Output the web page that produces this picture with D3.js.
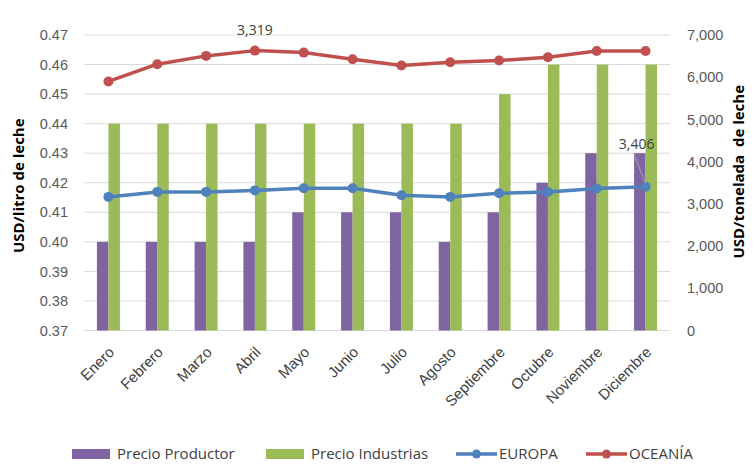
<!DOCTYPE html>
<html>
<head>
<meta charset="utf-8">
<script src="https://cdn.jsdelivr.net/npm/d3@7"></script>
<style>
  html, body { margin: 0; padding: 0; background: #fff; }
  svg { display: block; font-family: "Open Sans", "Noto Sans", sans-serif; }
</style>
</head>
<body>
<svg id="chart" width="756" height="464"></svg>
<script>
// Monthly milk prices: producer and industry price per litre (left axis),
// Europe and Oceania export price per tonne (right axis).
const months = ["Enero", "Febrero", "Marzo", "Abril", "Mayo", "Junio", "Julio",
  "Agosto", "Septiembre", "Octubre", "Noviembre", "Diciembre"];
const precioProductor = [0.40, 0.40, 0.40, 0.40, 0.41, 0.41, 0.41, 0.40, 0.41, 0.42, 0.43, 0.43];
const precioIndustrias = [0.44, 0.44, 0.44, 0.44, 0.44, 0.44, 0.44, 0.44, 0.45, 0.46, 0.46, 0.46];
const europa = [3165, 3283, 3283, 3319, 3370, 3370, 3205, 3165, 3252, 3283, 3363, 3406];
const oceania = [5900, 6309, 6505, 6630, 6583, 6427, 6276, 6356, 6394, 6474, 6623, 6623];
const leftTicks = [0.37, 0.38, 0.39, 0.40, 0.41, 0.42, 0.43, 0.44, 0.45, 0.46, 0.47];
const rightTicks = [0, 1000, 2000, 3000, 4000, 5000, 6000, 7000];
// Points whose value is written beside the line
const europaLabels = [3, 11];

const colors = {
  productor: "#8064A2",
  industrias: "#9BBB59",
  europa: "#4F81BD",
  oceania: "#C0504D"
};

const svg = d3.select("#chart");
const plot = { left: 84, right: 670, top: 35, bottom: 330.5 };

const x = d3.scaleBand().domain(months).range([plot.left, plot.right]).paddingInner(0).paddingOuter(0);
const yL = d3.scaleLinear().domain([0.37, 0.47]).range([plot.bottom, plot.top]);
const yR = d3.scaleLinear().domain([0, 7000]).range([plot.bottom, plot.top]);
const barW = 11.5;
const cx = m => x(m) + x.bandwidth() / 2;

// Horizontal gridlines
svg.append("g")
  .selectAll("line")
  .data(leftTicks)
  .join("line")
  .attr("x1", plot.left).attr("x2", plot.right)
  .attr("y1", d => yL(d)).attr("y2", d => yL(d))
  .attr("stroke", "#d9d9d9").attr("stroke-width", 1);

// Left axis
const leftAxis = svg.append("g")
  .attr("transform", `translate(${plot.left},0)`)
  .call(d3.axisLeft(yL).tickValues(leftTicks).tickFormat(d3.format(".2f")).tickSize(0).tickPadding(16));
leftAxis.select(".domain").remove();
leftAxis.selectAll("text").attr("fill", "#595959").style("font-size", "14.5px");

// Right axis
const rightAxis = svg.append("g")
  .attr("transform", `translate(${plot.right},0)`)
  .call(d3.axisRight(yR).tickValues(rightTicks).tickFormat(d3.format(",")).tickSize(0).tickPadding(17));
rightAxis.select(".domain").remove();
rightAxis.selectAll("text").attr("fill", "#595959").style("font-size", "14.5px");

// Axis titles
svg.append("text")
  .attr("transform", `translate(24,${(plot.top + plot.bottom) / 2 + 3}) rotate(-90)`)
  .attr("text-anchor", "middle")
  .attr("fill", "#000")
  .style("font-size", "15px").style("font-weight", "bold")
  .text("USD/litro de leche");
svg.append("text")
  .attr("transform", `translate(744,${(plot.top + plot.bottom) / 2 - 11}) rotate(-90)`)
  .attr("text-anchor", "middle")
  .attr("fill", "#000")
  .style("font-size", "15px").style("font-weight", "bold")
  .style("white-space", "pre")
  .text("USD/tonelada  de leche");

// Category labels
const xAxis = svg.append("g")
  .attr("transform", `translate(0,${plot.bottom})`)
  .call(d3.axisBottom(x).tickSize(0).tickPadding(0));
xAxis.select(".domain").remove();
xAxis.selectAll("text")
  .attr("fill", "#404040")
  .style("font-size", "15px")
  .attr("text-anchor", "end")
  .attr("transform", "translate(3,19) rotate(-45)")
  .attr("dy", "0.35em");

// Bars
svg.append("g").selectAll("rect")
  .data(months)
  .join("rect")
  .attr("x", d => cx(d) - barW)
  .attr("width", barW)
  .attr("y", (d, i) => yL(precioProductor[i]))
  .attr("height", (d, i) => plot.bottom - yL(precioProductor[i]))
  .attr("fill", colors.productor);

svg.append("g").selectAll("rect")
  .data(months)
  .join("rect")
  .attr("x", d => cx(d))
  .attr("width", barW)
  .attr("y", (d, i) => yL(precioIndustrias[i]))
  .attr("height", (d, i) => plot.bottom - yL(precioIndustrias[i]))
  .attr("fill", colors.industrias);

// Lines with markers
function drawSeries(values, color) {
  const line = d3.line().x((d, i) => cx(months[i])).y(d => yR(d));
  const g = svg.append("g");
  g.append("path")
    .datum(values)
    .attr("d", line)
    .attr("fill", "none")
    .attr("stroke", color)
    .attr("stroke-width", 3.5)
    .attr("stroke-linejoin", "round")
    .attr("stroke-linecap", "round");
  g.selectAll("circle")
    .data(values)
    .join("circle")
    .attr("cx", (d, i) => cx(months[i]))
    .attr("cy", d => yR(d))
    .attr("r", 5)
    .attr("fill", color);
}
drawSeries(europa, colors.europa);
drawSeries(oceania, colors.oceania);

// Value labels for Europe
const fmt = d3.format(",");
const aprIdx = europaLabels[0];
svg.append("text")
  .attr("x", cx(months[aprIdx]))
  .attr("y", 30)
  .attr("text-anchor", "middle")
  .attr("dy", "0.35em")
  .attr("fill", "#404040")
  .style("font-size", "14px")
  .text(fmt(europa[aprIdx]));

const decIdx = europaLabels[1];
const decX = cx(months[decIdx]);
const decY = yR(europa[decIdx]);
svg.append("line")
  .attr("x1", decX - 12).attr("y1", decY - 34)
  .attr("x2", decX).attr("y2", decY - 3)
  .attr("stroke", "#a6a6a6").attr("stroke-width", 1);
svg.append("text")
  .attr("x", decX - 9)
  .attr("y", decY - 43)
  .attr("text-anchor", "middle")
  .attr("dy", "0.35em")
  .attr("fill", "#404040")
  .style("font-size", "14px")
  .text(fmt(europa[decIdx]));

// Legend
const legend = svg.append("g").attr("transform", "translate(0,454)");
const items = [
  { label: "Precio Productor", color: colors.productor, type: "rect", x: 72 },
  { label: "Precio Industrias", color: colors.industrias, type: "rect", x: 266 },
  { label: "EUROPA", color: colors.europa, type: "line", x: 456 },
  { label: "OCEANÍA", color: colors.oceania, type: "line", x: 586 }
];
items.forEach(it => {
  const g = legend.append("g").attr("transform", `translate(${it.x},0)`);
  if (it.type === "rect") {
    g.append("rect").attr("x", 0).attr("y", -5).attr("width", 38).attr("height", 10).attr("fill", it.color);
  } else {
    g.append("line").attr("x1", 0).attr("x2", 41).attr("y1", 0).attr("y2", 0)
      .attr("stroke", it.color).attr("stroke-width", 3.5);
    g.append("circle").attr("cx", 20.5).attr("cy", 0).attr("r", 4.5).attr("fill", it.color);
  }
  g.append("text")
    .attr("x", it.type === "rect" ? 45 : 43)
    .attr("y", 0)
    .attr("dy", "0.35em")
    .attr("fill", "#404040")
    .style("font-size", "15px")
    .text(it.label);
});
</script>
</body>
</html>
